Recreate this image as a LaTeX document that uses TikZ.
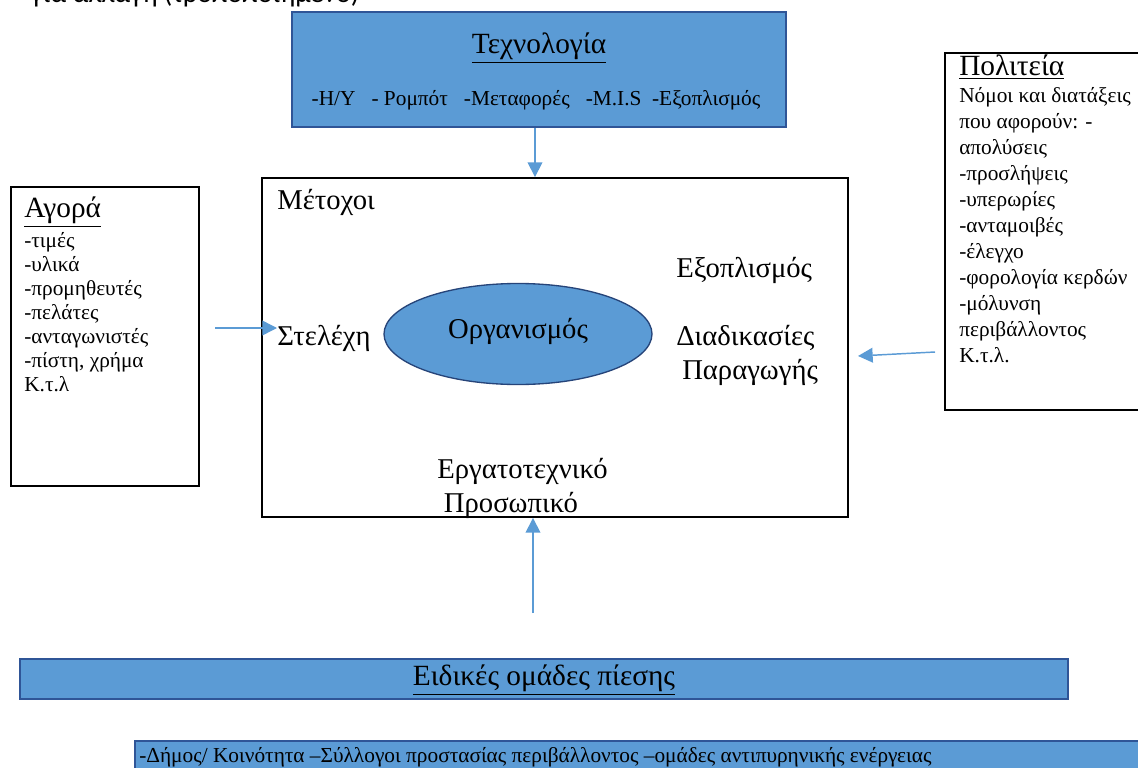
\documentclass[tikz,border=0pt]{standalone}
\usepackage{fontspec}
\setmainfont{Liberation Serif}
\newfontfamily\topfont{Carlito}
\usetikzlibrary{positioning, arrows.meta, shapes.geometric}
\definecolor{boxblue}{HTML}{5B9BD5}
\definecolor{boxedge}{HTML}{2F5597}

\begin{document}
\begin{tikzpicture}[x=0.75pt, y=-0.75pt,
    bluebox/.style={draw=boxedge, line width=1.8pt, fill=boxblue, inner sep=0pt},
    plainbox/.style={draw=black, line width=1.4pt, fill=white, inner sep=0pt},
    link/.style={draw=boxblue, line width=1.1pt, -{Triangle[length=11pt,width=11pt]}},
    lbl/.style={inner sep=0pt, font=\fontsize{21.5}{25.5}\selectfont},
    listtext/.style={inner sep=0pt, align=left}]
  \useasboundingbox (0,0) rectangle (1138,767);

  % note cut at the top edge
  \node[inner sep=0pt, anchor=base west, font=\topfont\fontsize{21}{24}\selectfont]
    (note) at (30,3) {για αλλαγή (τροποποιημένο)};

  % technology
  \node[bluebox, minimum width=370.5pt, minimum height=86.25pt] (tech) at (539,69.5) {};
  \node[inner sep=0pt, font=\fontsize{22}{24}\selectfont] (techtitle) at (539,48) {\underline{Τεχνολογία}};
  \node[inner sep=0pt, font=\fontsize{16}{18}\selectfont] (techitems) at (536,100)
    {-Η/Υ\ \ \ - Ρομπότ\ \ \ -Μεταφορές\ \ \ -M.I.S\ \ -Εξοπλισμός};

  % organisation
  \node[plainbox, minimum width=439.5pt, minimum height=254.25pt] (main) at (555,347.5) {};
  \node[ellipse, draw=boxedge!80!black, line width=1pt, fill=boxblue,
        minimum width=201pt, minimum height=75.75pt] (org) at (518,334) {};
  \node[lbl] (orgtitle) at (518,331) {Οργανισμός};
  \node[lbl, anchor=west] (share) at (277,202) {Μέτοχοι};
  \node[lbl, anchor=west] (stel) at (277,338) {Στελέχη};
  \node[lbl, anchor=west] (equip) at (676,270) {Εξοπλισμός};
  \node[lbl, align=left, anchor=west] (proc) at (676,355) {Διαδικασίες\\\hspace*{4.5pt}Παραγωγής};
  \node[lbl, align=left, anchor=west] (staff) at (437,488) {Εργατοτεχνικό\\\hspace*{5pt}Προσωπικό};

  % market
  \node[plainbox, minimum width=141pt, minimum height=224.25pt] (agora) at (105,336.5) {};
  \node[inner sep=0pt, anchor=west, font=\fontsize{22}{24}\selectfont] (agoratitle) at (24,212) {\underline{Αγορά}};
  \node[listtext, font=\fontsize{16}{18}\selectfont, below=4pt of agoratitle.south west, anchor=north west] (agoralist)
    {-τιμές\\-υλικά\\-προμηθευτές\\-πελάτες\\-ανταγωνιστές\\-πίστη, χρήμα\\Κ.τ.λ};

  % state
  \node[plainbox, minimum width=153.75pt, minimum height=267.75pt] (state) at (1047.5,231.5) {};
  \node[inner sep=0pt, anchor=west, font=\fontsize{22}{24}\selectfont] (statetitle) at (959,67) {\underline{Πολιτεία}};
  \node[listtext, font=\fontsize{16}{19.5}\selectfont, below=6pt of statetitle.south west, anchor=north west] (statelist)
    {Νόμοι και διατάξεις\\που αφορούν: -\\απολύσεις\\-προσλήψεις\\-υπερωρίες\\-ανταμοιβές\\-έλεγχο\\-φορολογία κερδών\\-μόλυνση\\περιβάλλοντος\\Κ.τ.λ.};

  % pressure groups
  \node[bluebox, minimum width=786pt, minimum height=30pt] (press) at (544,679) {};
  \node[inner sep=0pt, font=\fontsize{22}{24}\selectfont] (presstitle) at (544,680) {\underline{Ειδικές ομάδες πίεσης}};
  \node[bluebox, minimum width=768.75pt, minimum height=36.75pt] (groups) at (647.5,765.5) {};
  \node[inner sep=0pt, anchor=west, font=\fontsize{16}{18}\selectfont] (groupstext) at (139,757)
    {-Δήμος/ Κοινότητα –Σύλλογοι προστασίας περιβάλλοντος –ομάδες αντιπυρηνικής ενέργειας};

  % arrows
  \coordinate (agoraout) at (215,328);
  \coordinate (stateout) at (935,352);
  \coordinate (statein) at (858,356);
  \coordinate (pressout) at (533,613);
  \draw[link] ([xshift=-3pt]tech.south) -- ([xshift=-3pt]tech.south |- main.north);
  \draw[link] (agoraout) -- (agoraout -| stel.west);
  \draw[link] (stateout) -- (statein);
  \draw[link] (pressout) -- (pressout |- main.south);
\end{tikzpicture}
\end{document}
